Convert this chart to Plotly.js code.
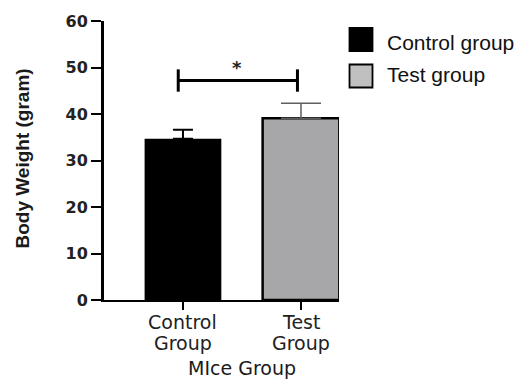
<!DOCTYPE html>
<html>
<head>
<meta charset="utf-8">
<script src="https://cdn.plot.ly/plotly-3.0.1.min.js"></script>
<style>html,body{margin:0;padding:0;background:#fff;}#chart{width:516px;height:379px;}</style>
</head>
<body>
<div id="chart"></div>
<script>
// ---- data ----
const categories = ['Control<br>Group', 'Test<br>Group'];
const means = [34.7, 39.1];
const errors = [1.9, 3.2];
const seriesNames = ['Control group', 'Test group'];
const yTickVals = [0, 10, 20, 30, 40, 50, 60];
const sigText = '*';
const sigBracketLevel = 47.2;
const sigBracketLow = 44.8;
const sigBracketHigh = 49.6;
const sigStarLevel = 50.0;

// ---- styles ----
const fills = ['#000000', '#a7a7aa'];
const errColors = ['#000000', '#5e5e5e'];
const errHalfWidths = [10, 20];
const errThick = [2, 1.5];
const legendFills = ['#000000', '#c0c0c0'];
const DV = '"DejaVu Sans", Verdana, sans-serif';
const AR = '"Liberation Sans", Arial, sans-serif';

const traces = categories.map((c, i) => ({
  type: 'bar',
  name: seriesNames[i],
  x: [c],
  y: [means[i]],
  width: 0.65,
  marker: {color: fills[i], line: {color: '#000', width: i === 0 ? 0 : 2.5}},
  error_y: {type: 'data', symmetric: false, array: [errors[i]], arrayminus: [0],
            color: errColors[i], thickness: errThick[i], width: errHalfWidths[i]},
  showlegend: false,
  hoverinfo: 'none'
}));

// pixel helpers (paper coords)
const W = 235, H = 279, L = 104, T = 21;
const px2x = p => (p - L) / W;
const px2y = p => (T + H - p) / H;
const shapes = [];
const annotations = [];

// custom legend
seriesNames.forEach((n, i) => {
  const top = 28 + i * 36.5, bot = top + 23;
  shapes.push({type: 'rect', xref: 'paper', yref: 'paper',
    x0: px2x(349.5), x1: px2x(372.5), y0: px2y(bot), y1: px2y(top),
    fillcolor: legendFills[i], line: {color: '#000', width: 1.8}});
  annotations.push({xref: 'paper', yref: 'paper', x: px2x(385), y: px2y(42 + i * 32.5),
    xanchor: 'left', yanchor: 'middle', showarrow: false, text: n,
    font: {family: AR, size: 21, color: '#111'}});
});

// category labels (two lines each, tight spacing like the reference)
categories.forEach(c => {
  c.split('<br>').forEach((line, j) => {
    annotations.push({xref: 'x', yref: 'paper', x: c, y: px2y(322 + j * 20.5),
      text: line, showarrow: false, xanchor: 'center', yanchor: 'middle',
      font: {family: DV, size: 19, color: '#222'}});
  });
});

// significance bracket (data coords)
const bx0 = -0.04, bx1 = 0.97;
shapes.push({type: 'line', xref: 'x', yref: 'y', x0: bx0, x1: bx1, y0: sigBracketLevel, y1: sigBracketLevel, line: {color: '#000', width: 3}});
shapes.push({type: 'line', xref: 'x', yref: 'y', x0: bx0, x1: bx0, y0: sigBracketLow, y1: sigBracketHigh, line: {color: '#000', width: 3}});
shapes.push({type: 'line', xref: 'x', yref: 'y', x0: bx1, x1: bx1, y0: sigBracketLow, y1: sigBracketHigh, line: {color: '#000', width: 3}});
annotations.push({xref: 'x', yref: 'y', x: 0.46, y: sigStarLevel, text: sigText, showarrow: false,
  xanchor: 'center', yanchor: 'middle', font: {family: DV, size: 18, color: '#222', weight: 'bold'}});

// axis titles
annotations.push({xref: 'x', yref: 'paper', x: 0.5, y: px2y(367.5), text: 'MIce Group', showarrow: false,
  xanchor: 'center', yanchor: 'middle', font: {family: DV, size: 19, color: '#1a1a1a'}});
annotations.push({xref: 'paper', yref: 'paper', x: px2x(22), y: px2y(158.5), text: 'Body Weight (gram)', showarrow: false,
  textangle: -90, xanchor: 'center', yanchor: 'middle', font: {family: AR, size: 19, color: '#1a1a1a', weight: 'bold'}});

const layout = {
  width: 516, height: 379,
  margin: {l: L, r: 516 - L - W, t: T, b: 379 - T - H, pad: 0},
  paper_bgcolor: '#fff', plot_bgcolor: '#fff',
  barmode: 'overlay',
  showlegend: false,
  xaxis: {
    type: 'category', categoryorder: 'array', categoryarray: categories,
    range: [-0.669, 1.322], fixedrange: true,
    showline: true, linecolor: '#000', linewidth: 2,
    ticks: 'outside', ticklen: 8, tickwidth: 2.5, tickcolor: '#000',
    showgrid: false, zeroline: false, showticklabels: false
  },
  yaxis: {
    range: [0, 60], tickvals: yTickVals, ticktext: yTickVals.map(String),
    showline: true, linecolor: '#000', linewidth: 3,
    ticks: 'outside', ticklen: 10, tickwidth: 2, tickcolor: '#000',
    showgrid: false, zeroline: false, fixedrange: true,
    tickfont: {family: DV, size: 16, color: '#222', weight: 'bold'}
  },
  shapes: shapes,
  annotations: annotations
};

Plotly.newPlot('chart', traces, layout, {staticPlot: true, displayModeBar: false});
</script>
</body>
</html>
